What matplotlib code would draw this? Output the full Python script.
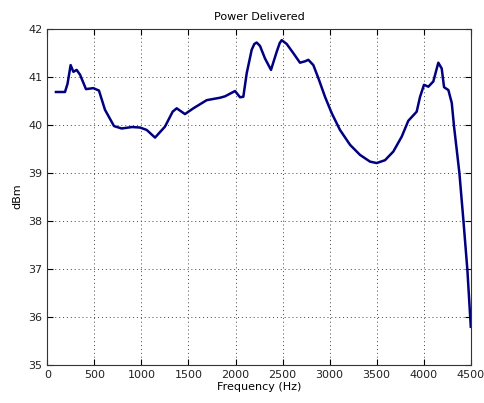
import numpy as np
import matplotlib
matplotlib.use("Agg")
import matplotlib.pyplot as plt

# frequency (Hz) and delivered power (dBm)
freq = [92, 188, 215, 248, 277, 312, 348, 411, 489, 549, 613, 709, 790, 900, 985,
        1056, 1145, 1251, 1332, 1375, 1463, 1552, 1694, 1835, 1889, 1995, 2048,
        2083, 2119, 2172, 2200, 2225, 2260, 2313, 2377, 2438, 2470, 2491, 2544,
        2614, 2685, 2740, 2774, 2827, 2880, 2951, 3022, 3110, 3217, 3323, 3429,
        3500, 3589, 3677, 3766, 3836, 3925, 3961, 4003, 4049, 4102, 4155, 4191,
        4216, 4262, 4298, 4322, 4351, 4379, 4421, 4464, 4500]
power = [40.68, 40.68, 40.85, 41.24, 41.10, 41.14, 41.04, 40.74, 40.76, 40.71,
         40.31, 39.97, 39.92, 39.95, 39.94, 39.89, 39.73, 39.96, 40.27, 40.34,
         40.22, 40.34, 40.51, 40.56, 40.59, 40.70, 40.57, 40.58, 41.07, 41.56,
         41.68, 41.71, 41.64, 41.38, 41.14, 41.52, 41.70, 41.76, 41.68, 41.49,
         41.29, 41.32, 41.35, 41.24, 40.97, 40.58, 40.24, 39.89, 39.58, 39.37,
         39.23, 39.20, 39.26, 39.44, 39.75, 40.08, 40.27, 40.58, 40.83, 40.79,
         40.90, 41.29, 41.17, 40.78, 40.72, 40.45, 39.96, 39.47, 38.99, 38.02,
         36.97, 35.79]

plt.rcParams['font.family'] = 'DejaVu Sans'
plt.rcParams['font.size'] = 8

fig = plt.figure(figsize=(4.84, 4.03), dpi=100)
ax = fig.add_axes([0.0977, 0.095, 0.875, 0.834])

ax.plot(freq, power, color='#000080', linewidth=1.8, solid_joinstyle='round')

ax.set_xlim(0, 4500)
ax.set_ylim(35, 42)
ax.set_xticks(np.arange(0, 4501, 500))
ax.set_yticks(np.arange(35, 42.1, 1))
ax.grid(True, color='#444444', linestyle=(0, (1, 3)), linewidth=0.7)
ax.tick_params(direction='in', length=4, width=0.8, top=True, right=True,
               labelsize=8, labelcolor='#222222')
for s in ax.spines.values():
    s.set_linewidth(0.8)
    s.set_color('#333333')

ax.set_title('Power Delivered', fontsize=8)
ax.set_xlabel('Frequency (Hz)', fontsize=8, labelpad=2)
ax.set_ylabel('dBm', fontsize=8)

fig.savefig('out.png', dpi=100)
